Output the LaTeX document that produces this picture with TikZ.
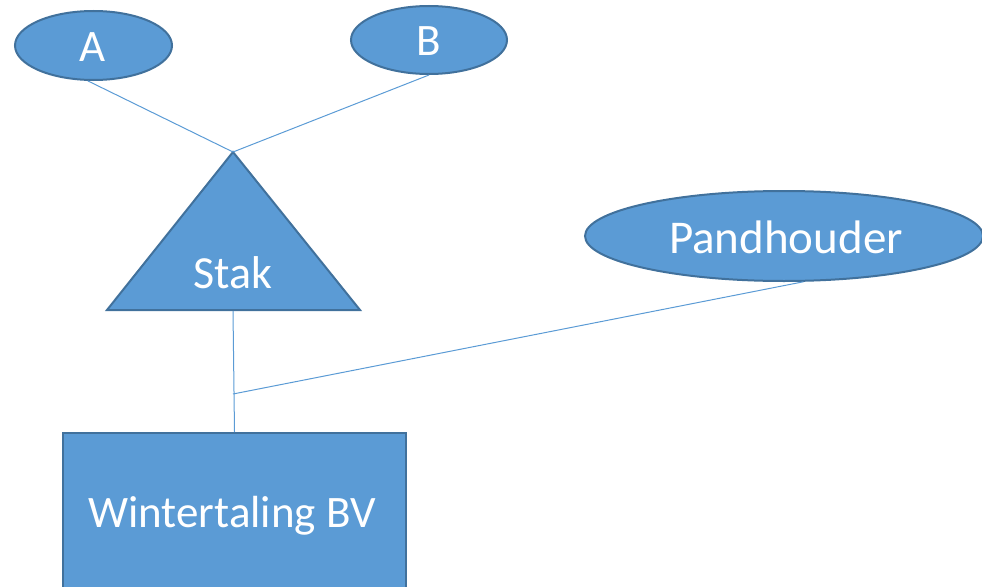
\documentclass[tikz,border=0pt]{standalone}
\usepackage{fontspec}
\setmainfont{Carlito}
\usetikzlibrary{shapes.geometric}
\definecolor{fillblue}{HTML}{5B9BD5}
\definecolor{edgeblue}{HTML}{41719C}
\begin{document}
\begin{tikzpicture}[x=1pt,y=-1pt,
  shapebox/.style={fill=fillblue, draw=edgeblue, line width=2pt, inner sep=0pt},
  conn/.style={draw=fillblue, line width=1pt},
  lbl/.style={text=white, font=\fontsize{45}{54}\selectfont, inner sep=0pt, anchor=base}]
\useasboundingbox (0,0) rectangle (982,586);
\clip (0,0) rectangle (982,586);
% shapes
\node[shapebox, ellipse, minimum width=157pt, minimum height=69pt] (A) at (93.5,45.5) {};
\node[shapebox, ellipse, minimum width=156pt, minimum height=68pt] (B) at (429,40) {};
\node[shapebox, ellipse, minimum width=398pt, minimum height=90pt] (P) at (784,236) {};
\coordinate (apex) at (233,152);
\coordinate (bl) at (107,310);
\coordinate (br) at (360,310);
\coordinate (stakbase) at (233,311);
\path[shapebox] (apex) -- (br) -- (bl) -- cycle;
\node[shapebox, rectangle, anchor=north west, minimum width=343pt, minimum height=200pt] (W) at (62,432) {};
\coordinate (J) at (233,394);
% labels
\node[lbl] (tA) at (93,62) {A};
\node[lbl] (tB) at (429,56) {B};
\node[lbl, font=\fontsize{47}{56}\selectfont] (tP) at (786,253) {Pandhouder};
\node[lbl, font=\fontsize{46}{55}\selectfont] (tS) at (233,288) {Stak};
\node[lbl] (tW) at (232,527) {Wintertaling BV};
% connectors
\draw[conn] (A.-99) -- (apex);
\draw[conn] (B.south) -- (apex);
\draw[conn] (stakbase) -- (W.north);
\draw[conn] (P.-67) -- (J);
\end{tikzpicture}
\end{document}
